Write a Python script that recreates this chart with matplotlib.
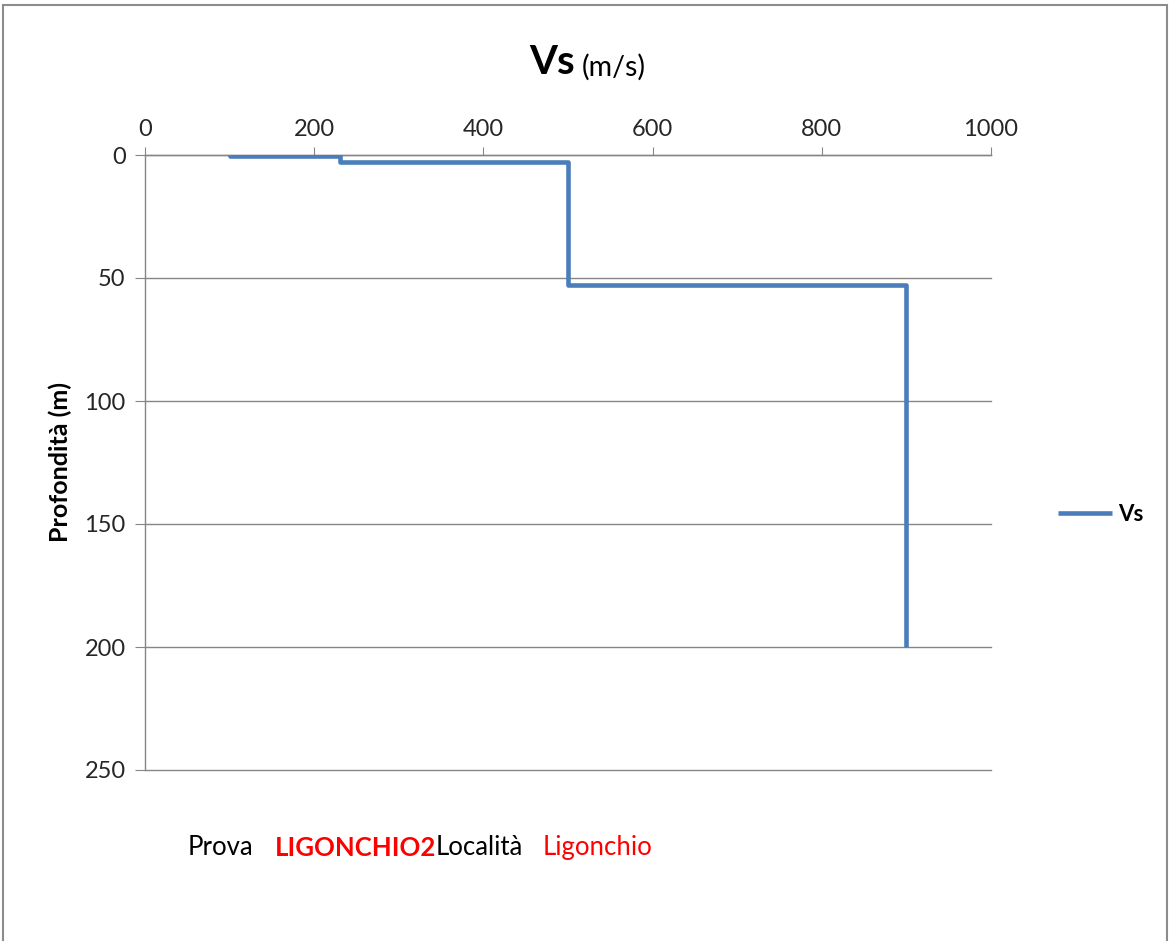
import matplotlib.pyplot as plt
from matplotlib.patches import Rectangle

# Vs profile (step line): velocity (m/s) vs depth (m)
vs = [100, 100, 230, 230, 500, 500, 900, 900]
depth = [0, 0.5, 0.5, 3, 3, 53, 53, 200]

x_ticks = [0, 200, 400, 600, 800, 1000]
y_ticks = [0, 50, 100, 150, 200, 250]

prova = 'LIGONCHIO2'
localita = 'Ligonchio'

plt.rcParams['font.family'] = ['Lato', 'DejaVu Sans']

W, H = 1171, 941
fig = plt.figure(figsize=(W / 100, H / 100), dpi=100)

# chart area border
fig.patches.append(Rectangle((3 / W, -0.01), 1164 / W, 1 - 5 / H + 0.01,
                             transform=fig.transFigure, fill=False,
                             edgecolor='#8c8c8c', linewidth=1.5))

ax = fig.add_axes([145 / W, 1 - 770 / H, (991 - 145) / W, (770 - 155) / H])
ax.plot(vs, depth, color='#4A7EBB', linewidth=3.3, solid_joinstyle='round',
        solid_capstyle='butt', label='Vs', zorder=3)

ax.set_xlim(0, 1000)
ax.set_ylim(250, 0)
ax.set_xticks(x_ticks)
ax.set_yticks(y_ticks)
ax.xaxis.tick_top()
ax.tick_params(axis='x', direction='out', length=6, color='#868686',
               labelsize=17, pad=5, labelcolor='#262626')
ax.tick_params(axis='y', direction='out', length=7, color='#868686',
               labelsize=17, pad=7, labelcolor='#262626')
ax.grid(axis='y', color='#868686', linewidth=1)
for gl in ax.get_ygridlines():
    gl.set_clip_on(False)
ax.set_axisbelow(True)
for s in ['right', 'bottom']:
    ax.spines[s].set_visible(False)
for s in ['left', 'top']:
    ax.spines[s].set_color('#868686')
    ax.spines[s].set_linewidth(1)

ax.set_ylabel('Profondità (m)', fontsize=18, fontweight='bold', labelpad=9)

# title "Vs (m/s)"
t1 = fig.text(529 / W, 1 - 74 / H, 'Vs', fontsize=29, fontweight='bold',
              va='baseline', ha='left')
ax.annotate('(m/s)', xy=(1, 0), xycoords=t1, xytext=(5, 0),
            textcoords='offset points', fontsize=20.5, va='bottom')

# legend
ax.legend(loc='center left', frameon=False,
          handlelength=2.4, handletextpad=0.3,
          prop={'weight': 'bold', 'size': 16})
ax.get_legend().set_bbox_to_anchor((1.056, 0.415), transform=ax.transAxes)

# bottom info line
b1 = fig.text(188 / W, 1 - 855 / H, 'Prova', fontsize=18.5, va='baseline')
b2 = ax.annotate(prova, xy=(1, 0), xycoords=b1, xytext=(15, 0),
                 textcoords='offset points', fontsize=18.5, fontweight='bold',
                 color='red', va='bottom')
b3 = ax.annotate('Località', xy=(1, 0), xycoords=b2, xytext=(0, 0),
                 textcoords='offset points', fontsize=18.5, va='bottom')
ax.annotate(localita, xy=(1, 0), xycoords=b3, xytext=(14, 0),
            textcoords='offset points', fontsize=18.5, color='red', va='bottom')

plt.savefig('out.png', dpi=100)
